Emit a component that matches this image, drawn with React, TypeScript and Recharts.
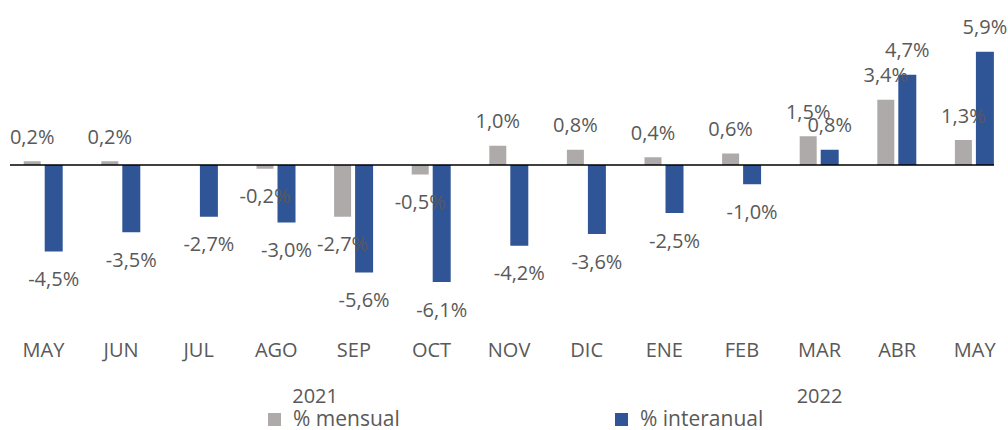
import React from 'react';
import { BarChart, Bar, XAxis, YAxis, ReferenceLine, LabelList, Legend } from 'recharts';

const months = ['MAY', 'JUN', 'JUL', 'AGO', 'SEP', 'OCT', 'NOV', 'DIC', 'ENE', 'FEB', 'MAR', 'ABR', 'MAY'];
const years = ['2021', '2021', '2021', '2021', '2021', '2021', '2021', '2021', '2022', '2022', '2022', '2022', '2022'];
const mensual = [0.2, 0.2, 0.0, -0.2, -2.7, -0.5, 1.0, 0.8, 0.4, 0.6, 1.5, 3.4, 1.3];
const interanual = [-4.5, -3.5, -2.7, -3.0, -5.6, -6.1, -4.2, -3.6, -2.5, -1.0, 0.8, 4.7, 5.9];
const seriesNames = ['% mensual', '% interanual'];

const data = months.map((m, i) => ({
  key: `${m}-${years[i]}`,
  month: m,
  year: years[i],
  mensual: mensual[i],
  interanual: interanual[i],
}));

const GRAY = '#AEAAAA';
const BLUE = '#2F5597';
const TEXT = '#595959';
const FONT = '"Open Sans", sans-serif';
const FS = 20;

const CHART_W = 1020;
const MARGIN = { top: 11.4, right: 6.5, bottom: 31.4, left: 4.7 };
const PLOT_W = CHART_W - MARGIN.left - MARGIN.right;
const BAND = PLOT_W / months.length;

// year groups
const yearGroups: { label: string; first: number; last: number }[] = [];
years.forEach((y, i) => {
  const g = yearGroups[yearGroups.length - 1];
  if (g && g.label === y) g.last = i;
  else yearGroups.push({ label: y, first: i, last: i });
});

const fmt = (v: number) => `${v.toFixed(1).replace('.', ',')}%`;

const ValueLabel = (props: any) => {
  const { x, y, width, height, value } = props;
  const top = Math.min(y, y + height);
  const bottom = Math.max(y, y + height);
  const cx = x + width / 2;
  const cy = value >= 0 ? top - 25 : bottom + 27;
  return (
    <text x={cx} y={cy} textAnchor="middle" dominantBaseline="central" fill={TEXT} fontSize={FS} fontFamily={FONT}>
      {fmt(value)}
    </text>
  );
};

const MonthTick = (props: any) => {
  const { x, y, payload, index } = props;
  const idx = typeof index === 'number' ? index : payload.index;
  const m = months[idx];
  const yearEls: React.ReactNode[] = [];
  yearGroups.forEach((g) => {
    const mid = (g.first + g.last) / 2;
    if (Math.floor(mid) === idx) {
      yearEls.push(
        <text key={g.label} x={x + (mid - idx) * BAND} y={y + 77} textAnchor="middle" dominantBaseline="central" fill={TEXT} fontSize={FS} fontFamily={FONT}>
          {g.label}
        </text>
      );
    }
  });
  return (
    <g>
      <text x={x} y={y + 30.4} textAnchor="middle" dominantBaseline="central" fill={TEXT} fontSize={FS} fontFamily={FONT}>
        {m}
      </text>
      {yearEls}
    </g>
  );
};

const LegendContent = (props: any) => {
  const payload = props.payload || [];
  const lefts = [268, 615];
  const items = seriesNames.map((n) => payload.find((p: any) => p.value === n)).filter(Boolean);
  return (
    <div style={{ position: 'relative', height: 22, width: 1008 }}>
      {items.map((p: any, i: number) => (
        <div key={i} style={{ position: 'absolute', left: lefts[i], top: 0, height: 22, display: 'flex', alignItems: 'center' }}>
          <span style={{ display: 'inline-block', width: 13, height: 13, background: p.color, marginRight: 12, marginTop: 3 }} />
          <span style={{ fontFamily: FONT, fontSize: 21, color: TEXT, lineHeight: '22px', whiteSpace: 'nowrap' }}>{p.value}</span>
        </div>
      ))}
    </div>
  );
};

const ZeroLine = (p: any) => (
  <line x1={10} y1={p.y1} x2={994} y2={p.y2} stroke="#000" strokeWidth={1.5} />
);

export default function App() {
  return (
    <div style={{ position: 'absolute', left: 0, top: 0, width: 1008, height: 430, overflow: 'hidden', background: '#fff' }}>
      <BarChart width={CHART_W} height={430} data={data} margin={MARGIN} barGap={4} barCategoryGap={0} style={{ fontFamily: FONT }}>
        <XAxis dataKey="key" axisLine={false} tickLine={false} tickSize={0} tickMargin={0} height={80} interval={0} tick={<MonthTick />} />
        <YAxis hide domain={[-8, 8]} type="number" allowDataOverflow />
        <Bar dataKey="mensual" name={seriesNames[0]} fill={GRAY} barSize={17} isAnimationActive={false}>
          <LabelList dataKey="mensual" content={<ValueLabel />} />
        </Bar>
        <Bar dataKey="interanual" name={seriesNames[1]} fill={BLUE} barSize={18} isAnimationActive={false}>
          <LabelList dataKey="interanual" content={<ValueLabel />} />
        </Bar>
        <ReferenceLine y={0} shape={ZeroLine} />
        <Legend layout="horizontal" verticalAlign="middle" align="center" itemSorter={null as any} content={<LegendContent />} wrapperStyle={{ top: 407, left: 0, width: 1008, height: 22 }} />
      </BarChart>
    </div>
  );
}
